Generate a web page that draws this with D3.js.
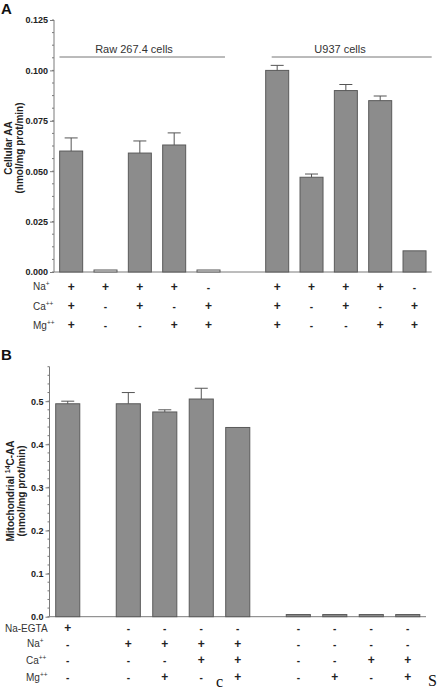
<!DOCTYPE html>
<html>
<head>
<meta charset="utf-8">
<script src="https://cdn.jsdelivr.net/npm/d3@7"></script>
<style>
  html, body { margin: 0; padding: 0; background: #fff; }
  svg { display: block; font-family: Arial, "Liberation Sans", sans-serif; }
</style>
</head>
<body>
<svg id="chart" width="439" height="693"></svg>
<script>
// ---------------- Panel A data ----------------
const groupNamesA = ["Raw 267.4 cells", "U937 cells"];
const rawValues  = [0.060, 0.001, 0.059, 0.063, 0.001];
const rawErrors  = [0.0065, 0, 0.006, 0.006, 0];
const u937Values = [0.100, 0.047, 0.090, 0.085, 0.0105];
const u937Errors = [0.0025, 0.0016, 0.003, 0.0023, 0];
const rowLabelsA = [["Na", "+"], ["Ca", "++"], ["Mg", "++"]];
const naA = ["+", "+", "+", "+", "-", "+", "+", "+", "+", "-"];
const caA = ["+", "-", "+", "-", "+", "+", "-", "+", "-", "+"];
const mgA = ["+", "-", "-", "+", "+", "+", "-", "-", "+", "+"];
const ticksA = [0, 0.025, 0.05, 0.075, 0.1, 0.125];
const yTitleA = ["Cellular AA", "(nmol/mg prot/min)"];

// ---------------- Panel B data ----------------
const valuesB = [0.494, 0.494, 0.475, 0.505, 0.439, 0.005, 0.005, 0.005, 0.005];
const errorsB = [0.006, 0.026, 0.005, 0.025, 0, 0, 0, 0, 0];
const groupSizesB = [1, 4, 4];
const rowLabelsB = [["Na-EGTA", ""], ["Na", "+"], ["Ca", "++"], ["Mg", "++"]];
const egtaB = ["+", "-", "-", "-", "-", "-", "-", "-", "-"];
const naB   = ["-", "+", "+", "+", "+", "-", "-", "-", "-"];
const caB   = ["-", "-", "-", "+", "+", "-", "-", "+", "+"];
const mgB   = ["-", "-", "+", "-", "+", "-", "+", "-", "+"];
const ticksB = [0, 0.1, 0.2, 0.3, 0.4, 0.5];

// ---------------- helpers ----------------
const svg = d3.select("#chart");
const BAR_FILL = "#8c8c8c", BAR_STROKE = "#5a5a5a", AXIS = "#7a7a7a", TXT = "#222";

function slotPositions(sizes, gap) {
  const pos = []; let p = 0;
  sizes.forEach((n, g) => {
    if (g > 0) p += gap - 1;
    for (let i = 0; i < n; i++) { pos.push(p); p += 1; }
  });
  return pos;
}

function drawPanel(cfg) {
  const g = svg.append("g");
  const pos = slotPositions(cfg.sizes, cfg.gap);
  const last = pos[pos.length - 1];
  const x = d3.scaleLinear().domain([-0.5, last + 0.5]).range([cfg.x0, cfg.x1]);
  const y = d3.scaleLinear().domain(cfg.yDomain).range([cfg.yBottom, cfg.yTop]);
  const step = x(1) - x(0);
  const bw = step * cfg.barFrac;

  // minor ticks
  g.append("g").selectAll("line").data(d3.range(cfg.yDomain[0], cfg.yDomain[1] + 1e-9, cfg.minor))
    .join("line")
    .attr("x1", cfg.x0 - 2).attr("x2", cfg.x0)
    .attr("y1", d => y(d)).attr("y2", d => y(d))
    .attr("stroke", AXIS).attr("stroke-width", 1);

  // y axis
  const ax = g.append("g").attr("transform", `translate(${cfg.x0},0)`)
    .call(d3.axisLeft(y).tickValues(cfg.ticks).tickFormat(d3.format(cfg.fmt)).tickSize(4).tickPadding(2));
  ax.select(".domain").attr("stroke", AXIS).attr("d", `M-0,${cfg.yBottom}V${cfg.yTop}`);
  ax.selectAll(".tick line").attr("stroke", AXIS);
  ax.selectAll(".tick text").attr("fill", TXT).attr("font-size", 9).attr("font-weight", "bold");

  // x axis baseline
  g.append("line").attr("x1", cfg.x0).attr("x2", cfg.x1)
    .attr("y1", cfg.yBottom).attr("y2", cfg.yBottom)
    .attr("stroke", AXIS).attr("stroke-width", 1);

  // bars
  const data = cfg.values.map((v, i) => ({ v, e: cfg.errors[i], p: pos[i] }));
  g.append("g").selectAll("rect").data(data).join("rect")
    .attr("x", d => x(d.p) - bw / 2)
    .attr("width", bw)
    .attr("y", d => y(d.v))
    .attr("height", d => y(0) - y(d.v))
    .attr("fill", d => d.v < cfg.lightBelow ? "#e8e8e8" : BAR_FILL)
    .attr("stroke", BAR_STROKE).attr("stroke-width", 1);

  // error bars
  const eb = g.append("g").selectAll("g").data(data.filter(d => d.e > 0)).join("g");
  eb.append("line").attr("x1", d => x(d.p)).attr("x2", d => x(d.p))
    .attr("y1", d => y(d.v)).attr("y2", d => y(d.v + d.e))
    .attr("stroke", "#555").attr("stroke-width", 1);
  eb.append("line").attr("x1", d => x(d.p) - 6.5).attr("x2", d => x(d.p) + 6.5)
    .attr("y1", d => y(d.v + d.e)).attr("y2", d => y(d.v + d.e))
    .attr("stroke", "#555").attr("stroke-width", 1);

  // condition table
  cfg.rows.forEach((row, r) => {
    const cy = cfg.rowY[r];
    const lab = g.append("text").attr("x", cfg.rowLabelX[r]).attr("y", cy + 3.5)
      .attr("font-size", 10).attr("fill", "#333");
    lab.append("tspan").text(cfg.rowLabels[r][0]);
    if (cfg.rowLabels[r][1]) {
      lab.append("tspan").attr("font-size", 6.5).attr("dy", -4).text(cfg.rowLabels[r][1]);
    }
    g.append("g").selectAll("text").data(row).join("text")
      .attr("x", (d, i) => x(pos[i]))
      .attr("y", cy + 4)
      .attr("text-anchor", "middle")
      .attr("font-size", d => d === "+" ? 12 : 10)
      .attr("font-weight", "bold")
      .attr("fill", "#222")
      .text(d => d === "+" ? "+" : "-");
  });

  // y title
  const tt = g.append("text")
    .attr("transform", `translate(${cfg.titleX},${cfg.titleY}) rotate(-90)`)
    .attr("text-anchor", "middle").attr("font-size", 10).attr("font-weight", "bold").attr("fill", "#222");
  cfg.title(tt);

  // panel letter
  g.append("text").attr("x", 1).attr("y", cfg.letterY)
    .attr("font-size", 15).attr("font-weight", "bold").attr("fill", "#111").text(cfg.letter);

  return { g, x, y, pos, step };
}

// ---------------- Panel A ----------------
const A = drawPanel({
  sizes: [rawValues.length, u937Values.length], gap: 2,
  x0: 54, x1: 431.7, yBottom: 272, yTop: 20, yDomain: [0, 0.125],
  ticks: ticksA, fmt: ".3f", minor: 0.00625, barFrac: 0.67,
  values: rawValues.concat(u937Values), errors: rawErrors.concat(u937Errors),
  lightBelow: 0.002,
  rows: [naA, caA, mgA], rowLabels: rowLabelsA, rowY: [286.7, 306, 325], rowLabelX: [33, 33, 33],
  titleX: 0, titleY: 148,
  title: t => {
    t.append("tspan").attr("x", 0).attr("dy", 11.5).text(yTitleA[0]);
    t.append("tspan").attr("x", 0).attr("dy", 11.5).text(yTitleA[1]);
  },
  letter: "A", letterY: 14
});

// group brackets for panel A
const lineOffsets = [[-0.34, 0.48], [-0.16, 0.5]];
let idx = 0;
groupNamesA.forEach((name, gi) => {
  const n = gi === 0 ? rawValues.length : u937Values.length;
  const first = A.pos[idx], lastP = A.pos[idx + n - 1];
  const mid = A.pos[idx + Math.floor(n / 2)];
  A.g.append("line")
    .attr("x1", A.x(first + lineOffsets[gi][0])).attr("x2", A.x(lastP + lineOffsets[gi][1]))
    .attr("y1", 57).attr("y2", 57).attr("stroke", "#777").attr("stroke-width", 1);
  A.g.append("text").attr("x", A.x(mid - 0.17)).attr("y", 53)
    .attr("text-anchor", "middle").attr("font-size", 11).attr("fill", "#333").text(name);
  idx += n;
});

// ---------------- Panel B ----------------
drawPanel({
  sizes: groupSizesB, gap: 1.66,
  x0: 49.5, x1: 426, yBottom: 616.7, yTop: 366.7, yDomain: [0, 0.58],
  ticks: ticksB, fmt: ".1f", minor: 0.02, barFrac: 0.66,
  values: valuesB, errors: errorsB, lightBelow: -1,
  rows: [egtaB, naB, caB, mgB], rowLabels: rowLabelsB, rowY: [628, 643.5, 660, 677],
  rowLabelX: [5, 27, 26, 26],
  titleX: 2, titleY: 491,
  title: t => {
    const l1 = t.append("tspan").attr("x", 0).attr("dy", 11.5);
    l1.append("tspan").text("Mitochondrial ");
    l1.append("tspan").attr("font-size", 7).attr("dy", -4).text("14");
    l1.append("tspan").attr("dy", 4).text("C-AA");
    t.append("tspan").attr("x", 0).attr("dy", 11).text("(nmol/mg prot/min)");
  },
  letter: "B", letterY: 360
});

// stray characters visible at the bottom of the source image
svg.append("text").attr("x", 216).attr("y", 687).attr("font-family", "'Liberation Serif', serif")
  .attr("font-size", 16).attr("fill", "#111").text("c");
svg.append("text").attr("x", 428).attr("y", 686).attr("font-family", "'Liberation Serif', serif")
  .attr("font-size", 16).attr("fill", "#111").text("S");
</script>
</body>
</html>
